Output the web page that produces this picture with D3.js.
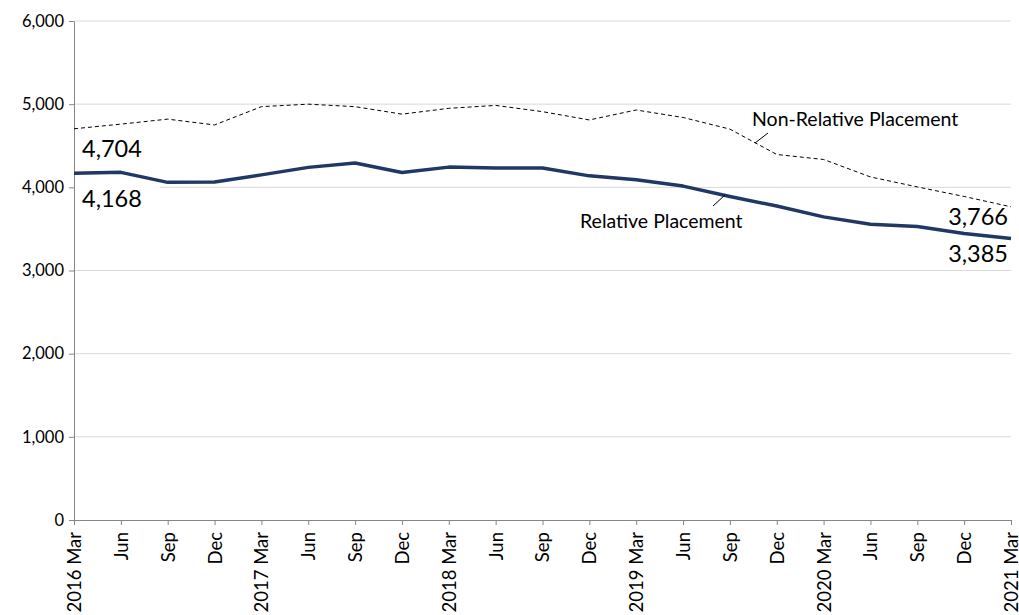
<!DOCTYPE html>
<html>
<head>
<meta charset="utf-8">
<script src="https://cdn.jsdelivr.net/npm/d3@7"></script>
<style>
  body { margin: 0; background: #fff; }
  text { font-family: Lato, "Open Sans", "Noto Sans", sans-serif; fill: #000; }
</style>
</head>
<body>
<script>
// quarterly periods, 2016 Mar .. 2021 Mar
const periods = ["2016 Mar","Jun","Sep","Dec","2017 Mar","Jun","Sep","Dec","2018 Mar","Jun","Sep","Dec",
                 "2019 Mar","Jun","Sep","Dec","2020 Mar","Jun","Sep","Dec","2021 Mar"];
const nonRelative = [4704,4760,4820,4750,4970,5000,4970,4880,4950,4985,4910,4810,
                     4930,4840,4700,4395,4335,4125,4005,3890,3766];
const relative = [4168,4180,4060,4065,4150,4240,4292,4178,4243,4233,4233,4138,
                  4090,4015,3890,3775,3645,3555,3530,3445,3385];
const yTicks = [0,1000,2000,3000,4000,5000,6000];

const w = 1019, h = 615;
const margin = {left: 74, right: 8, top: 21, bottom: 95};

const svg = d3.select("body").append("svg")
  .attr("width", w)
  .attr("height", h);

const x = d3.scalePoint()
  .domain(d3.range(periods.length))
  .range([margin.left, w - margin.right]);

const y = d3.scaleLinear()
  .domain([0, 6000])
  .range([h - margin.bottom, margin.top]);

// gridlines
svg.append("g")
  .selectAll("line")
  .data(yTicks.slice(1))
  .enter()
  .append("line")
  .attr("x1", margin.left)
  .attr("x2", w - margin.right)
  .attr("y1", d => y(d))
  .attr("y2", d => y(d))
  .attr("stroke", "#d9d9d9")
  .attr("stroke-width", 1);

// y axis
const yAxis = svg.append("g")
  .attr("transform", "translate(" + margin.left + ",0)")
  .call(d3.axisLeft(y).tickValues(yTicks).tickSize(5).tickSizeOuter(0).tickFormat(d3.format(",")));
yAxis.select(".domain").attr("stroke", "#868686");
yAxis.selectAll(".tick line").attr("stroke", "#868686");
yAxis.selectAll("text").attr("font-size", 16.5).attr("dx", "-2");

// x axis
const xAxis = svg.append("g")
  .attr("transform", "translate(0," + y(0) + ")")
  .call(d3.axisBottom(x).tickSize(5).tickSizeOuter(0).tickFormat(i => periods[i]));
xAxis.select(".domain").attr("stroke", "#868686");
xAxis.selectAll(".tick line").attr("stroke", "#868686");
xAxis.selectAll("text")
  .attr("font-size", 18.5)
  .attr("transform", "rotate(-90)")
  .attr("text-anchor", "end")
  .attr("x", -12)
  .attr("y", 0)
  .attr("dy", "0.35em");

const line = d3.line()
  .x((d, i) => x(i))
  .y(d => y(d));

svg.append("path")
  .datum(nonRelative)
  .attr("d", line)
  .attr("fill", "none")
  .attr("stroke", "#000")
  .attr("stroke-width", 1)
  .attr("stroke-dasharray", "4,3");

const last = periods.length - 1;

// white box behind the first relative label (hides gridline as in original)
svg.append("rect")
  .attr("x", x(0) + 1)
  .attr("y", y(relative[0]) + 9)
  .attr("width", 85)
  .attr("height", 31)
  .attr("fill", "#fff");

svg.append("path")
  .datum(relative)
  .attr("d", line)
  .attr("fill", "none")
  .attr("stroke", "#1f3864")
  .attr("stroke-width", 3.5)
  .attr("stroke-linejoin", "round");

// value labels
const fmt = d3.format(",");
const labels = svg.append("g");
labels.append("text")
  .attr("x", x(0) + 8)
  .attr("y", y(nonRelative[0]) + 28)
  .attr("font-size", 23.5)
  .text(fmt(nonRelative[0]));
labels.append("text")
  .attr("x", x(0) + 8)
  .attr("y", y(relative[0]) + 33.5)
  .attr("font-size", 23.5)
  .text(fmt(relative[0]));
labels.append("text")
  .attr("x", x(last) - 3)
  .attr("y", y(nonRelative[last]) + 18)
  .attr("text-anchor", "end")
  .attr("font-size", 23.5)
  .text(fmt(nonRelative[last]));
labels.append("text")
  .attr("x", x(last) - 3)
  .attr("y", y(relative[last]) + 23.5)
  .attr("text-anchor", "end")
  .attr("font-size", 23.5)
  .text(fmt(relative[last]));

// series annotations
svg.append("text")
  .attr("x", 752)
  .attr("y", 126)
  .attr("font-size", 19.5)
  .text("Non-Relative Placement");
svg.append("line")
  .attr("x1", 768).attr("y1", 133)
  .attr("x2", 755).attr("y2", 143)
  .attr("stroke", "#000");

svg.append("text")
  .attr("x", 580)
  .attr("y", 228)
  .attr("font-size", 19.5)
  .text("Relative Placement");
svg.append("line")
  .attr("x1", 725).attr("y1", 195)
  .attr("x2", 713).attr("y2", 206)
  .attr("stroke", "#000");
</script>
</body>
</html>
